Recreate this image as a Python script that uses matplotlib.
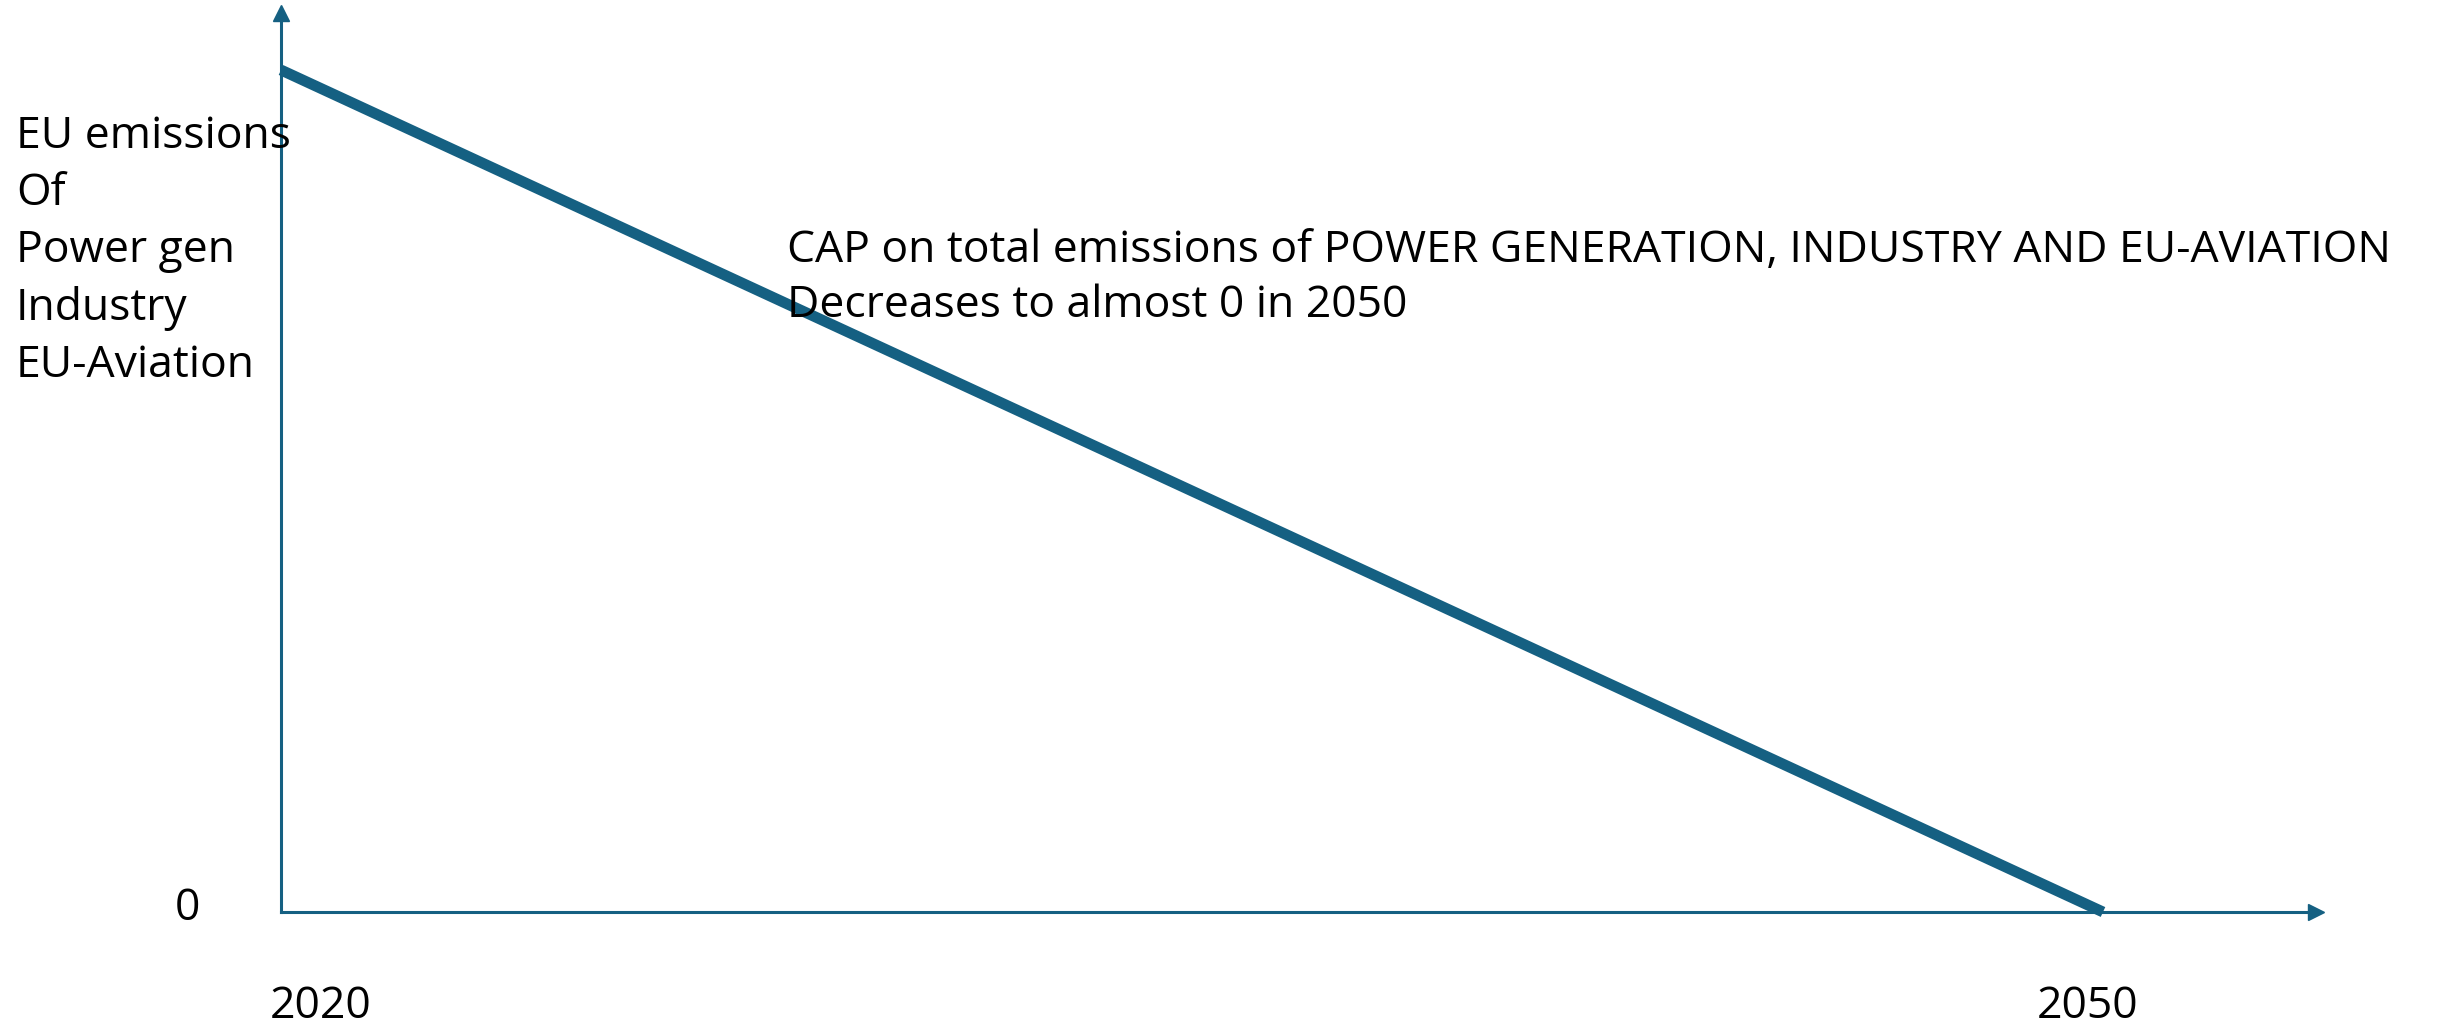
import matplotlib
matplotlib.use("Agg")
import matplotlib.pyplot as plt
import matplotlib.transforms as mtransforms

# Data
years = [2020, 2050]
emissions = [100, 0]          # cap index (start level = 100, almost 0 in 2050)
ytick_vals = [0]
ytick_labels = ["0"]
xtick_vals = [2020, 2050]
xtick_labels = ["2020", "2050"]
ylabel_lines = ["EU emissions", "Of", "Power gen", "Industry", "EU-Aviation"]
cap_text = ["CAP on total emissions of POWER GENERATION, INDUSTRY AND EU-AVIATION",
            "Decreases to almost 0 in 2050"]

COL = "#156082"
FONT = ["Open Sans", "DejaVu Sans"]
FS = 32

W, H = 2437, 1026
fig = plt.figure(figsize=(W / 100, H / 100), dpi=100)

# pixel geometry of the axes
x0, y0 = 281, 912          # origin pixel
x_end, y_top = 2316, 13    # spine ends (arrow heads added beyond)
px_per_year = (2103 - 281) / 30
px_per_unit = (912 - 70) / 100

ax = fig.add_axes([x0 / W, (H - y0) / H, (x_end - x0) / W, (y0 - y_top) / H])
ax.set_xlim(2020, 2020 + (x_end - x0) / px_per_year)
ax.set_ylim(0, (y0 - y_top) / px_per_unit)

for s in ["top", "right"]:
    ax.spines[s].set_visible(False)
for s in ["left", "bottom"]:
    ax.spines[s].set_color(COL)
    ax.spines[s].set_linewidth(2.2)

ax.plot(1, 0, ">", color=COL, markersize=11, transform=ax.transAxes, clip_on=False)
ax.plot(0, 1, "^", color=COL, markersize=11, transform=ax.transAxes, clip_on=False)

ax.plot(years, emissions, color=COL, linewidth=7.8, solid_capstyle="butt", clip_on=False)

ax.set_xticks([])
ax.set_yticks([])


def px(dx, dy):
    return mtransforms.ScaledTranslation(dx / 100, dy / 100, fig.dpi_scale_trans)


x_offsets = [-11, -66]
for yr, lab, dx in zip(xtick_vals, xtick_labels, x_offsets):
    ax.text(yr, 0, lab, transform=ax.transData + px(dx, -106), fontsize=FS, family=FONT,
            ha="left", va="baseline", color="black")
for v, lab in zip(ytick_vals, ytick_labels):
    ax.text(2020, v, lab, transform=ax.transData + px(-81, -8), fontsize=FS, family=FONT,
            ha="right", va="baseline", color="black")

# left label block
for i, line in enumerate(ylabel_lines):
    fig.text(16 / W, 1 - (148 + i * 57.25) / H, line, fontsize=FS, family=FONT,
             va="baseline", ha="left", color="black")
# annotation text
for i, line in enumerate(cap_text):
    fig.text(787 / W, 1 - (262 + i * 55) / H, line, fontsize=FS, family=FONT,
             va="baseline", ha="left", color="black")

fig.savefig("out.png", dpi=100)
